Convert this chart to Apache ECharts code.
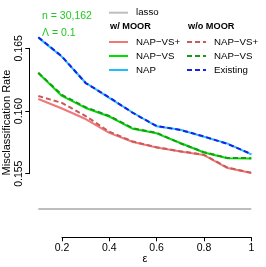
<!DOCTYPE html>
<html><head><meta charset="utf-8">
<script src="https://cdn.jsdelivr.net/npm/echarts@6/dist/echarts.min.js"></script>
<style>html,body{margin:0;padding:0;background:#fff}#c{width:266px;height:267px}</style>
</head><body><div id="c"></div><script>
const eps = [0.1, 0.2, 0.3, 0.4, 0.5, 0.6, 0.7, 0.8, 0.9, 1.0];
const lasso = [0.15219, 0.15219, 0.15219, 0.15219, 0.15219, 0.15219, 0.15219, 0.15219, 0.15219, 0.15219];
const napVSplus = [0.16096, 0.16020, 0.15936, 0.15825, 0.15753, 0.15709, 0.15677, 0.15649, 0.15545, 0.15506];
const napVS = [0.16303, 0.16120, 0.16024, 0.15956, 0.15858, 0.15822, 0.15745, 0.15669, 0.15623, 0.15621];
const nap = [0.16585, 0.16432, 0.16225, 0.16105, 0.15986, 0.15878, 0.15851, 0.15795, 0.15740, 0.15654];
const napVSplusWo = [0.16120, 0.16064, 0.15960, 0.15835, 0.15756, 0.15711, 0.15679, 0.15651, 0.15548, 0.15508];
const napVSWo = [0.16305, 0.16128, 0.16030, 0.15960, 0.15862, 0.15826, 0.15742, 0.15672, 0.15625, 0.15624];
const existing = [0.16588, 0.16435, 0.16223, 0.16108, 0.15984, 0.15880, 0.15849, 0.15797, 0.15737, 0.15657];
const xTicks = [0.2, 0.4, 0.6, 0.8, 1];
const yTicks = [0.155, 0.160, 0.165];

const WO = ' (w/o MOOR)';
const pts = arr => eps.map((e, i) => [e, arr[i]]);
const FONT = 'Liberation Sans, Arial, sans-serif';

function line(name, arr, color, dashed) {
  return {
    name: name, type: 'line', xAxisIndex: 0, yAxisIndex: 0,
    data: pts(arr), symbol: 'none', silent: true,
    lineStyle: { color: color, width: 2, type: dashed ? [5, 3] : 'solid' },
    itemStyle: { color: color }
  };
}

const chart = echarts.init(document.getElementById('c'));
const legendCommon = {
  orient: 'vertical', itemWidth: 19, itemHeight: 10, itemGap: 4, padding: 0,
  selectedMode: false,
  itemStyle: { opacity: 0 },
  textStyle: { fontSize: 9.7, lineHeight: 10, color: '#000', fontFamily: FONT, padding: [0, 0, 0, 3] },
  formatter: n => n.replace(WO, '')
};
chart.setOption({
  animation: false,
  backgroundColor: '#fff',
  grid: [
    { left: 38.3, width: 213, top: 23.2, height: 213.2 },
    { left: 29.3, width: 5, top: 48.3, height: 125.4 },
    { left: 62, width: 189.3, top: 200, height: 37.3 }
  ],
  xAxis: [
    { gridIndex: 0, type: 'value', min: 0.1, max: 1, show: false },
    { gridIndex: 1, type: 'value', min: 0, max: 1, show: false },
    { gridIndex: 2, type: 'value', min: 0.2, max: 1, interval: 0.2, position: 'bottom',
      axisLine: { show: true, lineStyle: { color: '#000', width: 1 } },
      axisTick: { show: true, length: 4, lineStyle: { color: '#000' } },
      splitLine: { show: false },
      axisLabel: { margin: 5, fontSize: 10.5, color: '#000', fontFamily: FONT,
        formatter: v => (Math.abs(v - 1) < 1e-9 ? '1' : v.toFixed(1)) } }
  ],
  yAxis: [
    { gridIndex: 0, type: 'value', min: 0.150, max: 0.167, show: false },
    { gridIndex: 1, type: 'value', min: yTicks[0], max: yTicks[yTicks.length - 1], interval: 0.005, position: 'left',
      axisLine: { show: true, lineStyle: { color: '#000', width: 1 } },
      axisTick: { show: true, length: 4, lineStyle: { color: '#000' } },
      splitLine: { show: false },
      axisLabel: { rotate: 90, margin: 5, fontSize: 10.5, color: '#000', fontFamily: FONT,
        formatter: v => v.toFixed(3) } },
    { gridIndex: 2, type: 'value', min: 0, max: 1, show: false }
  ],
  legend: [
    Object.assign({}, legendCommon, { data: ['lasso'], left: 108, top: 7.7 }),
    Object.assign({}, legendCommon, { data: ['NAP\u2212VS+', 'NAP\u2212VS', 'NAP'], left: 108, top: 37 }),
    Object.assign({}, legendCommon, { data: ['NAP\u2212VS+' + WO, 'NAP\u2212VS' + WO, 'Existing'], left: 186, top: 37 })
  ],
  graphic: [
    { type: 'text', left: 42, top: 10.5, style: { text: 'n = 30,162', fill: '#22c922', fontSize: 10.5, fontFamily: FONT } },
    { type: 'text', left: 42, top: 28, style: { text: '\u039b = 0.1', fill: '#22c922', fontSize: 10.5, fontFamily: FONT } },
    { type: 'text', left: 110, top: 22, style: { text: 'w/ MOOR', fill: '#000', fontSize: 9.2, fontWeight: 'bold', fontFamily: FONT } },
    { type: 'text', left: 188, top: 22, style: { text: 'w/o MOOR', fill: '#000', fontSize: 9.2, fontWeight: 'bold', fontFamily: FONT } },
    { type: 'text', x: 7, y: 122.5, rotation: Math.PI / 2,
      style: { text: 'Misclassification Rate', fill: '#000', fontSize: 11, fontFamily: FONT, align: 'center', verticalAlign: 'middle' } },
    { type: 'text', x: 145, y: 259, style: { text: '\u03b5', fill: '#000', fontSize: 11, fontFamily: FONT, align: 'center', verticalAlign: 'middle' } }
  ],
  series: [
    line('lasso', lasso, '#bebebe', false),
    line('NAP\u2212VS+', napVSplus, '#f07878', false),
    line('NAP\u2212VS', napVS, '#00e000', false),
    line('NAP', nap, '#1ebeff', false),
    line('NAP\u2212VS+' + WO, napVSplusWo, '#c85a5a', true),
    line('NAP\u2212VS' + WO, napVSWo, '#1e961e', true),
    line('Existing', existing, '#1e1ee6', true)
  ]
});
</script></body></html>
